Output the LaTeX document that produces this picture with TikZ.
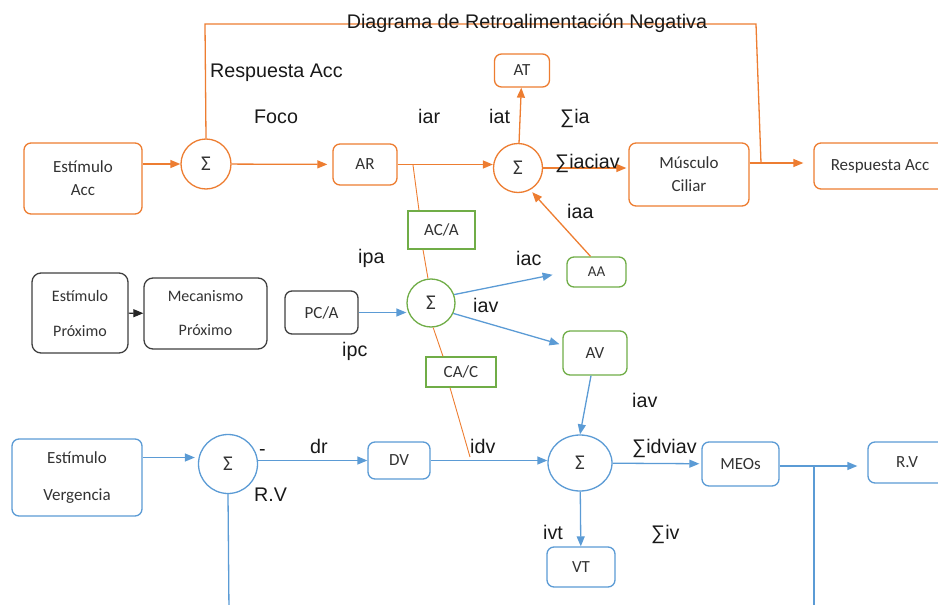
\documentclass[tikz,border=0pt]{standalone}
\usepackage{fontspec}
\setmainfont{Liberation Sans}
\newfontfamily\calfont{Carlito}
\usetikzlibrary{arrows.meta,shapes.geometric}

\definecolor{accorange}{RGB}{237,125,49}
\definecolor{vergblue}{RGB}{91,155,213}
\definecolor{crossgreen}{RGB}{112,173,71}

\begin{document}
\begin{tikzpicture}[
  x=1pt, y=-1pt,
  >={Triangle[length=10pt,width=8pt]},
  blockbase/.style={line width=1.3pt, fill=white, inner sep=0pt, text=black!80,
    font=\calfont\fontsize{17}{23}\selectfont, align=center},
  accbox/.style={blockbase, draw=accorange, rounded corners=7pt},
  vergbox/.style={blockbase, draw=vergblue, rounded corners=7pt},
  linkbox/.style={blockbase, draw=crossgreen, rounded corners=7pt},
  ratiobox/.style={blockbase, draw=crossgreen},
  proxbox/.style={blockbase, draw=black!75, rounded corners=9pt},
  summer/.style={blockbase, circle, font=\calfont\fontsize{21}{24}\selectfont},
  acc path/.style={->, line width=1.3pt, accorange},
  acc line/.style={line width=1.3pt, accorange},
  cross line/.style={line width=0.9pt, accorange},
  verg path/.style={->, line width=1.3pt, vergblue},
  verg line/.style={line width=1.3pt, vergblue},
  lbl/.style={anchor=base west, inner sep=0pt, font=\fontsize{19.7}{23}\selectfont, text=black!90}
]
  \useasboundingbox (0,0) rectangle (938,605);

  % accommodation loop (orange)
  \node[accbox, minimum width=118pt, minimum height=71pt] (estacc) at (83,178.5) {Estímulo\\Acc};
  \node[summer, draw=accorange, minimum size=50pt] (sumA) at (206,164) {Σ};
  \node[accbox, minimum width=64pt, minimum height=41pt] (ar) at (365,164.5) {AR};
  \node[summer, draw=accorange, minimum size=49pt] (sumB) at (518,168) {Σ};
  \node[accbox, minimum width=55pt, minimum height=33pt] (at) at (522,70.5) {AT};
  \node[accbox, minimum width=120pt, minimum height=63pt] (musc) at (689,174.5) {Músculo\\Ciliar};
  \node[accbox, minimum width=132pt, minimum height=46pt] (respacc) at (880,166) {Respuesta Acc};

  % cross links (green)
  \node[ratiobox, minimum width=67pt, minimum height=38pt] (aca) at (441.5,230) {AC/A};
  \node[summer, draw=crossgreen, minimum size=48pt] (sumC) at (431,303) {Σ};
  \node[ratiobox, minimum width=70pt, minimum height=30pt] (cac) at (461,372) {CA/C};
  \node[linkbox, minimum width=59pt, minimum height=30pt, font=\calfont\fontsize{15}{17}\selectfont] (aa) at (596.5,272) {AA};
  \node[linkbox, minimum width=64pt, minimum height=44pt] (av) at (595,353) {AV};

  % proximal (black)
  \node[proxbox, minimum width=96pt, minimum height=80pt, font=\calfont\fontsize{16}{35}\selectfont] (estprox) at (80,313) {Estímulo\\Próximo};
  \node[proxbox, minimum width=123pt, minimum height=71pt, font=\calfont\fontsize{16}{34}\selectfont] (mecprox) at (205.5,313.5) {Mecanismo\\Próximo};
  \node[proxbox, rounded corners=7pt, minimum width=73pt, minimum height=43pt] (pca) at (321.5,312.5) {PC/A};

  % vergence loop (blue)
  \node[vergbox, minimum width=130pt, minimum height=77pt, font=\calfont\fontsize{17}{37}\selectfont] (estverg) at (77,477.5) {Estímulo\\Vergencia};
  \node[summer, draw=vergblue, minimum size=59pt] (sumD) at (228,464) {Σ};
  \node[vergbox, minimum width=62pt, minimum height=37pt] (dv) at (399,460.5) {DV};
  \node[blockbase, ellipse, draw=vergblue, minimum width=64pt, minimum height=56pt,
    font=\calfont\fontsize{21}{24}\selectfont] (sumE) at (580,463) {Σ};
  \node[vergbox, minimum width=77pt, minimum height=44pt] (meos) at (740.5,464) {MEOs};
  \node[vergbox, minimum width=78pt, minimum height=41pt] (rv) at (907,462.5) {R.V};
  \node[vergbox, minimum width=68pt, minimum height=40pt] (vt) at (581,567) {VT};

  \coordinate (fbtap) at (761,163);
  \coordinate (fbtop) at (756,24);
  \coordinate (fbleft) at (205,24);
  \coordinate (arjn) at (413,165);
  \coordinate (dvjn) at (470,457);
  \coordinate (rvtap) at (814,466);
  \coordinate (meosdown) at (814,612);
  \coordinate (sumDdown) at (229,612);

  \draw[acc path] (estacc.east |- sumA) -- (sumA);
  \draw[acc path, shorten >=5pt] (sumA) -- (ar);
  \draw[acc path] (ar.east) -- (ar.east -| sumB.west);
  \draw[acc path] (sumB) -- (at);
  \draw[acc path, shorten >=2pt] (sumB.east) -- (sumB.east -| musc.west);
  \draw[acc path, shorten >=10pt] (musc.east |- fbtap) -- (respacc.west |- fbtap);
  \draw[acc line] (fbtap) -- (fbtop) -- (fbleft) -- (sumA.north);
  \draw[acc path, shorten >=3pt] ([xshift=-6pt]aa.north) -- (sumB.-61);

  \draw[cross line] (arjn) -- ([xshift=-22.5pt]aca.north);
  \draw[cross line] ([xshift=-18.5pt]aca.south) -- (sumC.97);
  \draw[cross line] (sumC.-85) -- ([xshift=-18pt]cac.north);
  \draw[cross line] ([xshift=-11pt]cac.south) -- (dvjn);

  \draw[->, line width=1.1pt, black!85] (estprox) -- (mecprox);
  \draw[verg path] (pca.east) -- (pca.east -| sumC.west);
  \draw[verg path, shorten >=14pt] (sumC.20) -- (aa.west);
  \draw[verg path, shorten >=3pt] (sumC.-25) -- ([yshift=8pt]av.west);
  \draw[verg path] ([xshift=-4pt]av.south) -- (sumE.north);

  \draw[verg path, shorten >=3pt] ([yshift=20pt]estverg.east) -- ([yshift=20pt]estverg.east -| sumD.west);
  \draw[verg path] (dv.west -| sumD.east) -- (dv);
  \draw[verg line] (sumD.south) -- (sumDdown);
  \draw[verg path] (dv.east) -- (dv.east -| sumE.west);
  \draw[verg path, shorten >=2pt] (sumE) -- (meos);
  \draw[verg path, shorten >=10pt] (meos.east |- rvtap) -- (rv.west |- rvtap);
  \draw[verg line] (rvtap) -- (meosdown);
  \draw[verg path] (sumE) -- (vt);

  % labels
  \node[lbl, anchor=base] (title) at (527,28) {Diagrama de Retroalimentación Negativa};
  \node[lbl] (lresp) at (210,77) {Respuesta Acc};
  \node[lbl] (lfoco) at (254,123) {Foco};
  \node[lbl] (liar) at (418,123) {iar};
  \node[lbl] (liat) at (489,123) {iat};
  \node[lbl] (lsia) at (560,123) {∑ia};
  \node[lbl] (lsiac) at (555,168) {∑iaciav};
  \node[lbl] (liaa) at (567,218) {iaa};
  \node[lbl] (lipa) at (358,263) {ipa};
  \node[lbl] (lipc) at (342,356) {ipc};
  \node[lbl] (liac) at (516,265) {iac};
  \node[lbl] (liavm) at (473,312) {iav};
  \node[lbl] (liavr) at (632,407) {iav};
  \node[lbl] (lminus) at (259,455) {-};
  \node[lbl] (ldr) at (310,453) {dr};
  \node[lbl] (lrv) at (254,501) {R.V};
  \node[lbl] (lidv) at (470,453) {idv};
  \node[lbl] (lsidv) at (632,453) {∑idviav};
  \node[lbl] (livt) at (543,539) {ivt};
  \node[lbl] (lsiv) at (651,539) {∑iv};
\end{tikzpicture}
\end{document}
